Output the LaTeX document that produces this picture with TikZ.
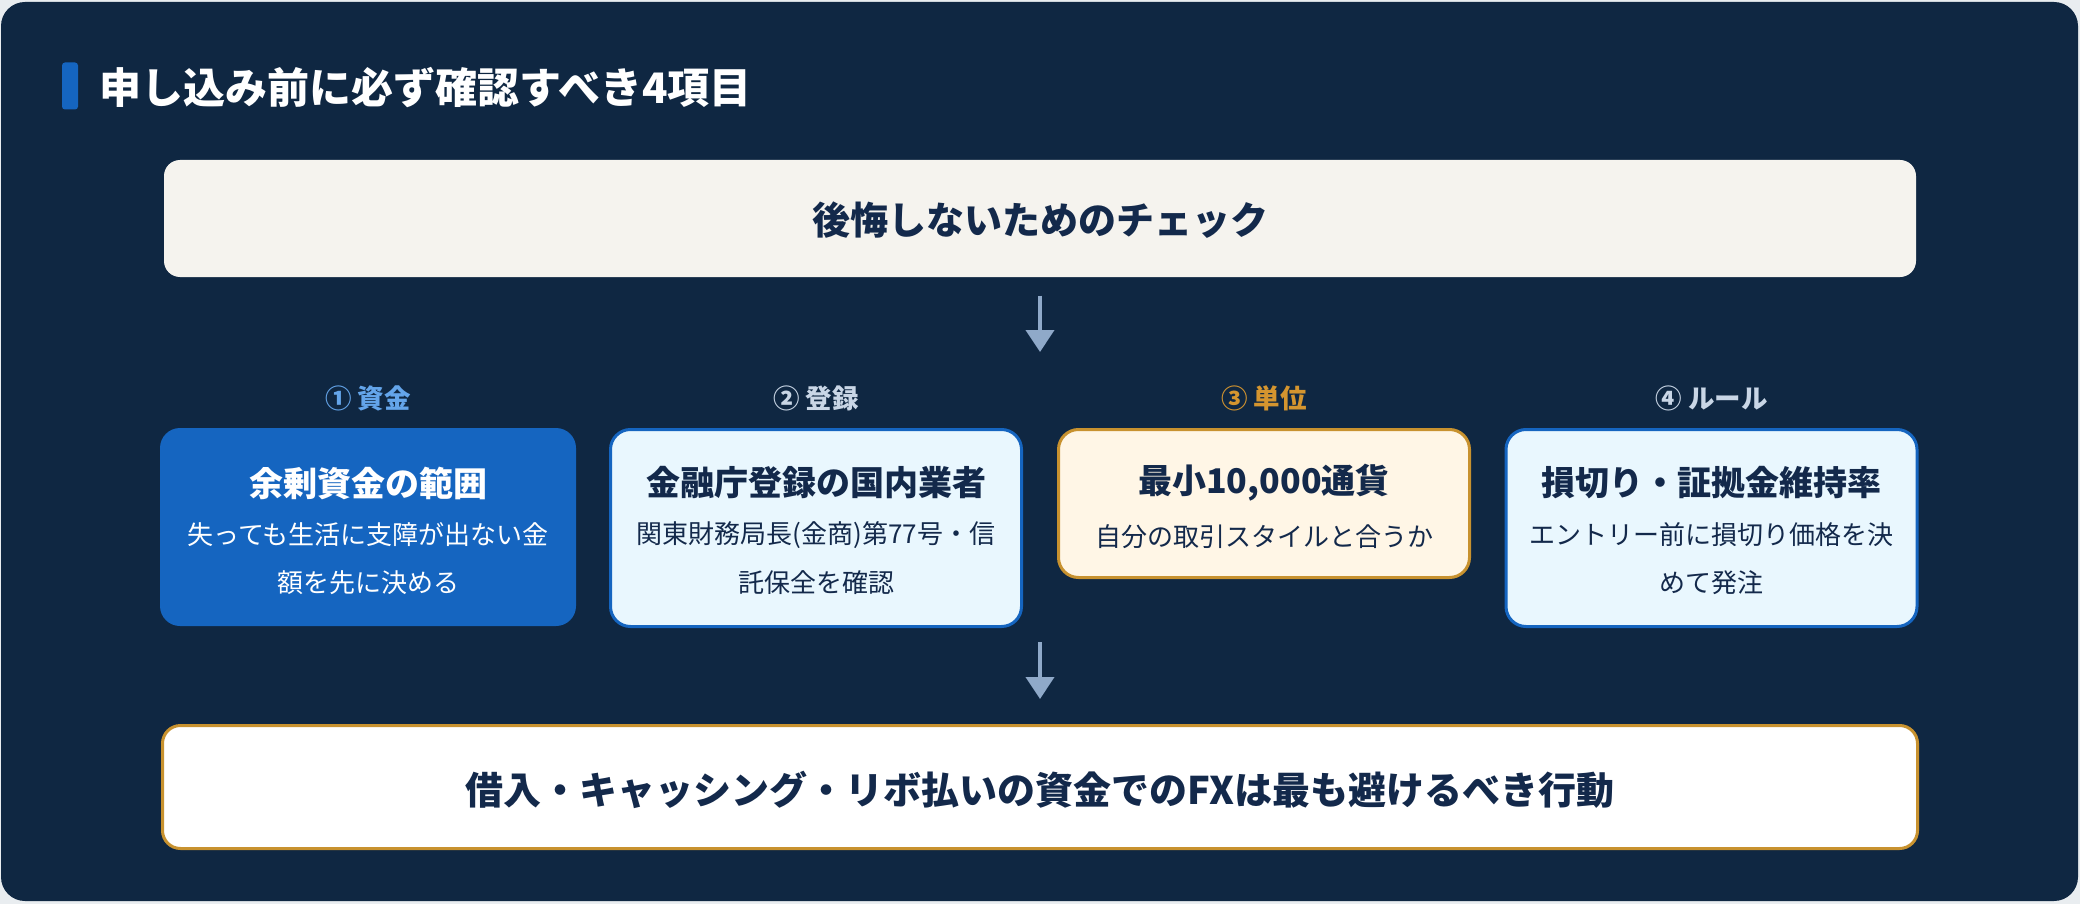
\documentclass[tikz,border=0pt]{standalone}
\usepackage{fontspec}
\setmainfont{Noto Sans CJK JP}
\usetikzlibrary{arrows.meta}
\definecolor{pagebg}{HTML}{E9EDF0}
\definecolor{navy}{HTML}{0F2742}
\definecolor{ink}{HTML}{13294B}
\definecolor{blue}{HTML}{1565C0}
\definecolor{paleblue}{HTML}{E9F7FE}
\definecolor{cream}{HTML}{F5F3EE}
\definecolor{gold}{HTML}{C8922F}
\definecolor{palegold}{HTML}{FFF6E6}
\definecolor{arrowc}{HTML}{8FA9C9}
\definecolor{lab1}{HTML}{64A5EA}
\definecolor{labgray}{HTML}{C9D6E6}
\definecolor{lab3}{HTML}{D4952F}
\tikzset{
  box/.style={rounded corners=20pt, inner sep=0pt, line width=3pt},
  txt/.style={inner sep=0pt, anchor=center},
  ttl/.style={txt, font=\fontsize{34pt}{34pt}\selectfont\bfseries},
  sub/.style={txt, font=\fontsize{26pt}{26pt}\selectfont},
  lab/.style={txt, font=\fontsize{26.5pt}{26.5pt}\selectfont\bfseries},
  flow/.style={draw=arrowc, line width=4pt, -{Triangle[width=28pt,length=22pt]}},
}
\begin{document}
\begin{tikzpicture}[x=1pt,y=-1pt]
\fill[pagebg] (0,0) rectangle (2080,904);
\useasboundingbox (0,0) rectangle (2080,904);
\fill[navy, rounded corners=24pt] (1,2) rectangle (2078,901);
% title
\node[fill=blue, rounded corners=3pt, minimum width=16pt, minimum height=47pt, inner sep=0pt] (bar) at (70,86) {};
\node[txt, anchor=west, text=white, font=\fontsize{42pt}{42pt}\selectfont\bfseries] (title) at (99,88) {申し込み前に必ず確認すべき4項目};
% top box
\node[box, rounded corners=16pt, fill=cream, minimum width=1752pt, minimum height=117pt] (top) at (1040,218.5) {};
\node[txt, text=ink, font=\fontsize{38pt}{38pt}\selectfont\bfseries] (toptxt) at (1040,220) {後悔しないためのチェック};
\coordinate (a1e) at (1040,352);
\draw[flow, shorten <=17pt] (top.south) -- (a1e);
% labels
\node[lab, text=lab1] (l1) at (368,398) {① 資金};
\node[lab, text=labgray] (l2) at (816,398) {② 登録};
\node[lab, text=lab3] (l3) at (1264,398) {③ 単位};
\node[lab, text=labgray] (l4) at (1711.5,398) {④ ルール};
% box 1
\node[box, fill=blue, minimum width=416pt, minimum height=198pt] (b1) at (368,527) {};
\node[ttl, text=white] (b1t) at (368,483) {余剰資金の範囲};
\node[sub, text=white] (b1s1) at (368,535) {失っても生活に支障が出ない金};
\node[sub, text=white] (b1s2) at (368,583) {額を先に決める};
% box 2
\node[box, draw=blue, fill=paleblue, minimum width=411pt, minimum height=197pt] (b2) at (816,528) {};
\node[ttl, text=ink] (b2t) at (816,483) {金融庁登録の国内業者};
\node[sub, text=ink] (b2s1) at (816,535) {関東財務局長(金商)第77号・信};
\node[sub, text=ink] (b2s2) at (816,583) {託保全を確認};
% box 3
\node[box, draw=gold, fill=palegold, minimum width=411pt, minimum height=148pt] (b3) at (1264,503.5) {};
\node[ttl, text=ink] (b3t) at (1264,483) {最小10,000通貨};
\node[sub, text=ink] (b3s1) at (1264,537) {自分の取引スタイルと合うか};
% box 4
\node[box, draw=blue, fill=paleblue, minimum width=411pt, minimum height=197pt] (b4) at (1711.5,528) {};
\node[ttl, text=ink] (b4t) at (1711.5,483) {損切り・証拠金維持率};
\node[sub, text=ink] (b4s1) at (1711.5,535) {エントリー前に損切り価格を決};
\node[sub, text=ink] (b4s2) at (1711.5,583) {めて発注};
% bottom
\coordinate (a2s) at (1040,642);
\node[box, rounded corners=18pt, draw=gold, fill=white, minimum width=1755pt, minimum height=123pt] (bot) at (1040,787) {};
\node[txt, text=ink, font=\fontsize{38pt}{38pt}\selectfont\bfseries] (bottxt) at (1040,790) {借入・キャッシング・リボ払いの資金でのFXは最も避けるべき行動};
\draw[flow, shorten >=25pt] (a2s) -- (bot.north);
\end{tikzpicture}
\end{document}
